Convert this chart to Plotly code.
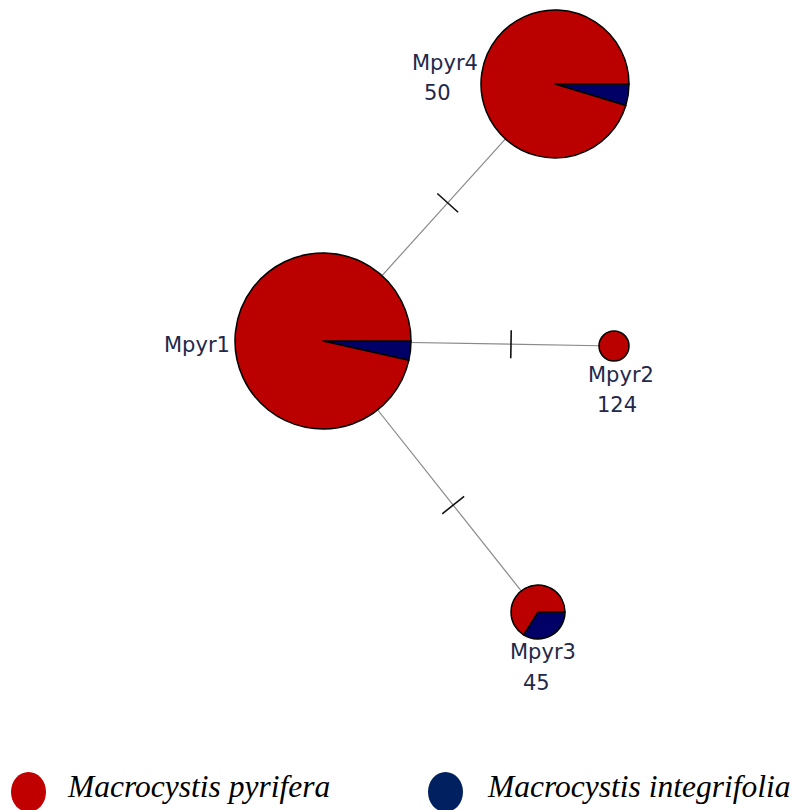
import math
import plotly.graph_objects as go

# Haplotype network: nodes, their species composition and labels
haplotypes = ["Mpyr1", "Mpyr2", "Mpyr3", "Mpyr4"]
counts = [None, 124, 45, 50]                 # count shown under the name (none for Mpyr1)
pct_integrifolia = [3.5, 0.0, 34.0, 4.7]     # % of M. integrifolia in each haplotype
pct_pyrifera = [100 - p for p in pct_integrifolia]

# Network edges (one mutational step each)
edges = [("Mpyr1", "Mpyr4"), ("Mpyr1", "Mpyr2"), ("Mpyr1", "Mpyr3")]
mutations = [1, 1, 1]

species = ["Macrocystis pyrifera", "Macrocystis integrifolia"]

# Drawing layout (pixel space of the canvas)
W, H = 796, 810
node_x = [323, 614, 538, 555]
node_y = [341, 346, 612, 84]
node_r = [88, 15, 27, 74]
label_pos = {
    "Mpyr1": [(197, 345)],
    "Mpyr2": [(621, 375), (617, 405)],
    "Mpyr3": [(543, 652), (536, 683)],
    "Mpyr4": [(445, 63), (437, 93)],
}

RED = "#BB0000"
NAVY = "#000066"
LEG_RED = "#C00000"
LEG_NAVY = "#002060"
LABEL_COLOR = "#22284a"

fig = go.Figure()
idx = {h: i for i, h in enumerate(haplotypes)}

# Edges with mutation ticks
for (a, b), m in zip(edges, mutations):
    i, j = idx[a], idx[b]
    x0, y0, x1, y1 = node_x[i], node_y[i], node_x[j], node_y[j]
    fig.add_trace(go.Scatter(x=[x0, x1], y=[y0, y1], mode="lines",
                             line=dict(color="#8a8a8a", width=1.2),
                             hoverinfo="skip", showlegend=False))
    d = math.hypot(x1 - x0, y1 - y0)
    ux, uy = (x1 - x0) / d, (y1 - y0) / d
    # visible part of the edge between the two circles
    s0, s1 = node_r[i], d - node_r[j]
    for k in range(m):
        t = s0 + (s1 - s0) * (k + 1) / (m + 1) + 6
        cx, cy = x0 + ux * t, y0 + uy * t
        px, py = -uy * 14, ux * 14
        fig.add_trace(go.Scatter(x=[cx - px, cx + px], y=[cy - py, cy + py],
                                 mode="lines", line=dict(color="#111111", width=1.6),
                                 hoverinfo="skip", showlegend=False))

# Pie nodes
for i, h in enumerate(haplotypes):
    cx, cy, r = node_x[i], node_y[i], node_r[i]
    dom_x = [(cx - r) / W, (cx + r) / W]
    dom_y = [1 - (cy + r) / H, 1 - (cy - r) / H]
    vals, cols, labs = [], [], []
    if pct_integrifolia[i] > 0:
        vals.append(pct_integrifolia[i]); cols.append(NAVY); labs.append(species[1])
    vals.append(pct_pyrifera[i]); cols.append(RED); labs.append(species[0])
    fig.add_trace(go.Pie(
        values=vals, labels=labs,
        marker=dict(colors=cols, line=dict(color="#000000", width=1.5)),
        sort=False, direction="clockwise", rotation=90,
        textinfo="none", hoverinfo="label+percent", showlegend=False,
        domain=dict(x=dom_x, y=dom_y), name=h,
    ))

# Node labels
for i, h in enumerate(haplotypes):
    texts = [h] + ([str(counts[i])] if counts[i] is not None else [])
    for txt, (lx, ly) in zip(texts, label_pos[h]):
        fig.add_annotation(x=lx, y=ly, xref="x", yref="y", text=txt, showarrow=False,
                           font=dict(family="DejaVu Sans", size=21, color=LABEL_COLOR),
                           xanchor="center", yanchor="middle")

# Species key
key = [(28.5, 792, LEG_RED, 65, species[0]), (445.5, 792, LEG_NAVY, 485, species[1])]
shapes = []
for ex, ey, col, tx, name in key:
    shapes.append(dict(type="circle", xref="x", yref="y",
                       x0=ex - 17.5, x1=ex + 17.5, y0=ey - 20, y1=ey + 20,
                       fillcolor=col, line=dict(width=0), layer="above"))
    fig.add_annotation(x=tx, y=786, xref="x", yref="y", text=f"<i>{name}</i>",
                       showarrow=False, xanchor="left", yanchor="middle",
                       font=dict(family="Liberation Serif", size=31.5, color="#000000"))

fig.update_layout(
    width=W, height=H, margin=dict(l=0, r=0, t=0, b=0),
    paper_bgcolor="white", plot_bgcolor="white",
    xaxis=dict(range=[0, W], visible=False, fixedrange=True),
    yaxis=dict(range=[H, 0], visible=False, fixedrange=True),
    shapes=shapes, showlegend=False,
)

fig.write_html("out.html")
